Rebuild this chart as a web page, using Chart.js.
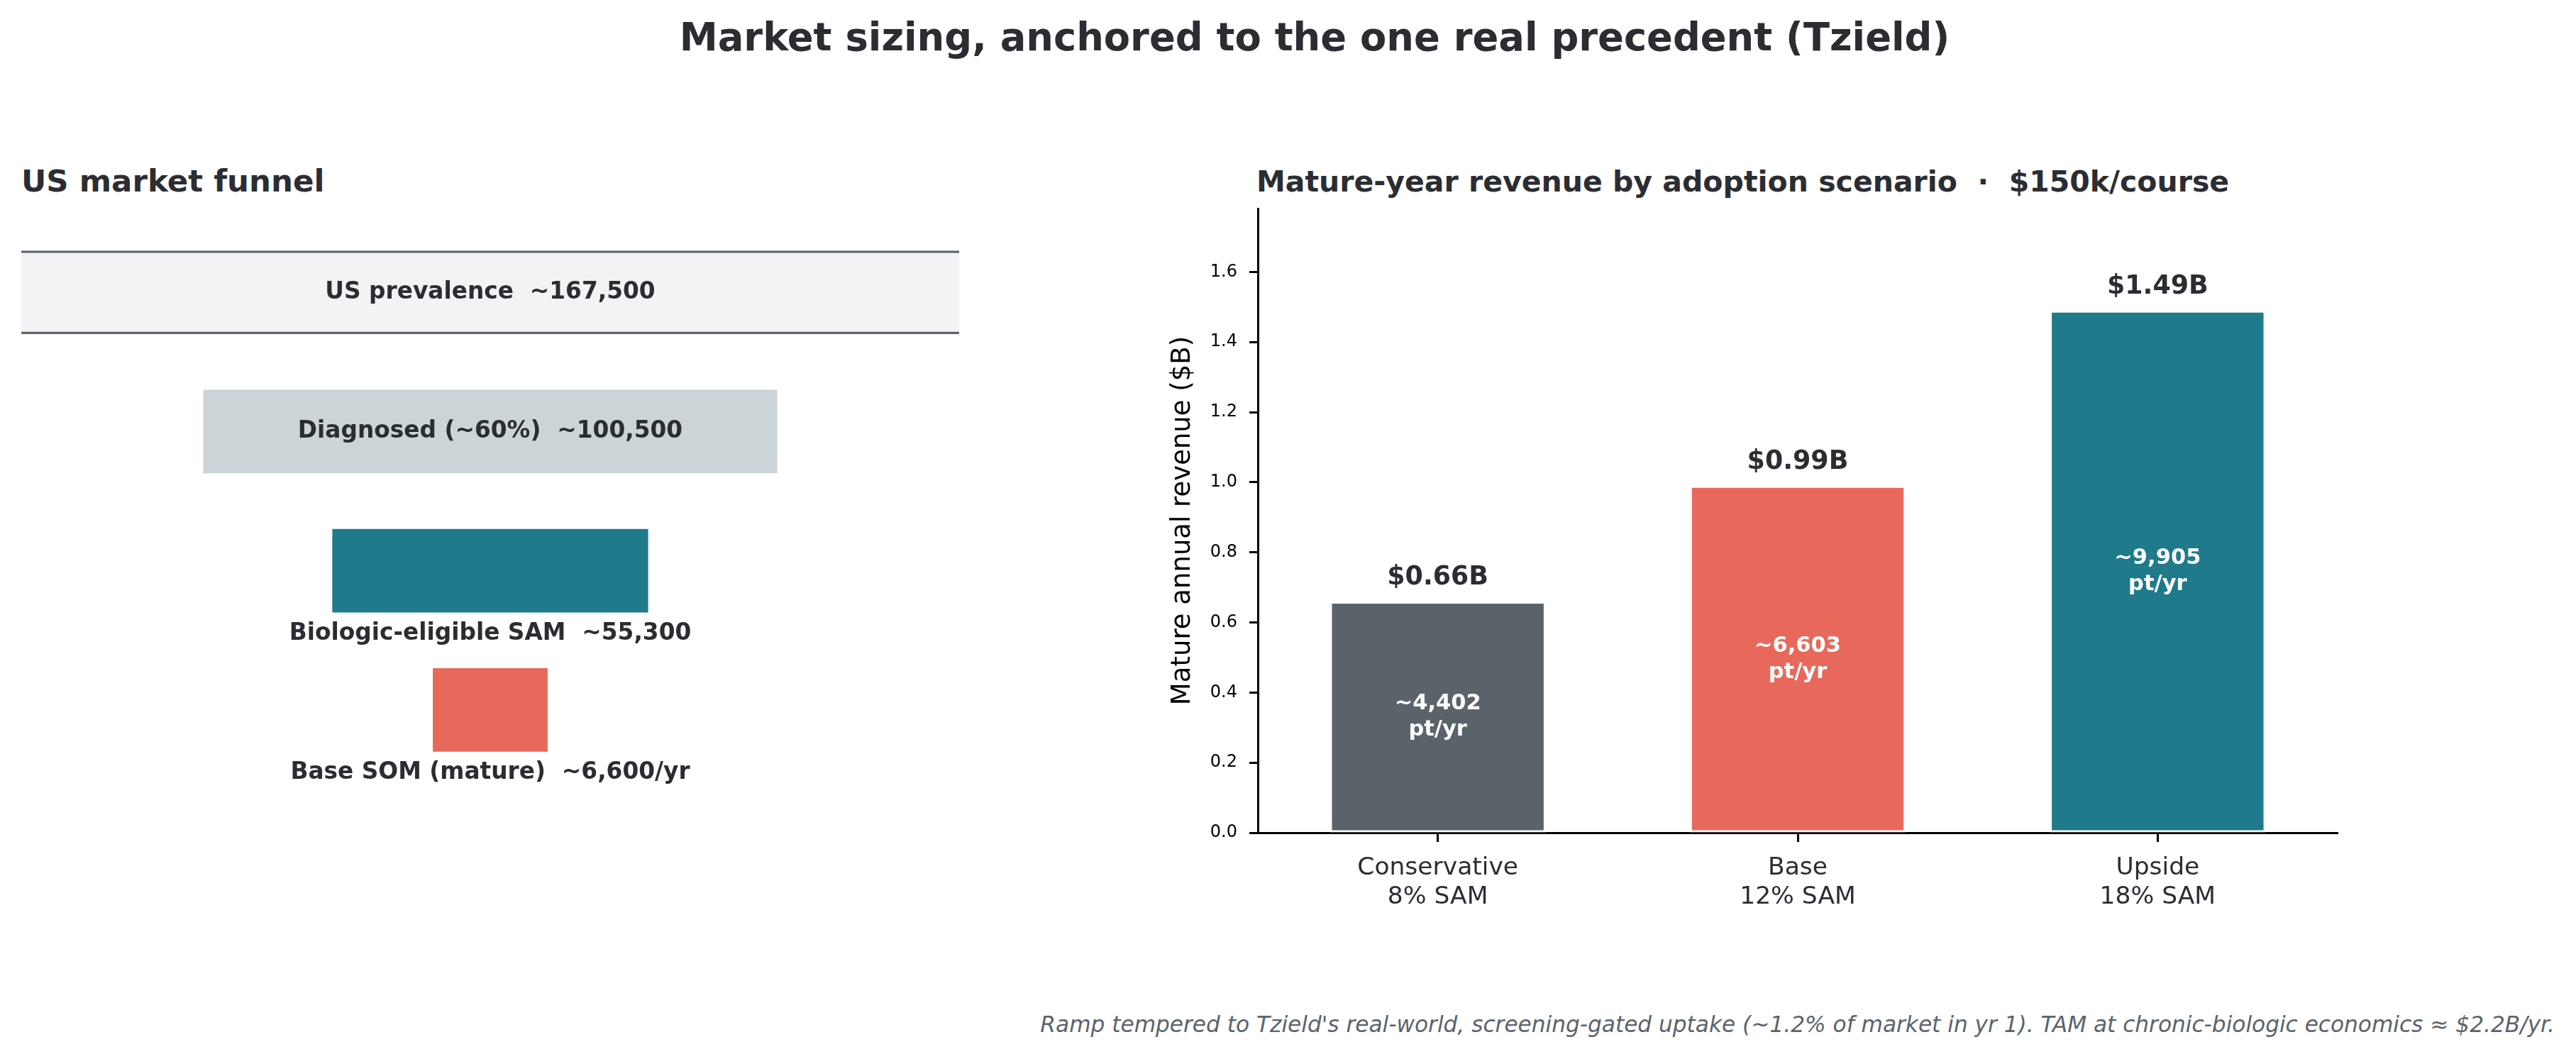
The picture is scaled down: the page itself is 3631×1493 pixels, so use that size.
<!DOCTYPE html>
<html lang="en">
<head>
  <meta charset="UTF-8" />
  <title>Market sizing, anchored to the one real precedent (Tzield)</title>
  <script src="https://cdn.jsdelivr.net/npm/chart.js@4.4.1/dist/chart.umd.min.js"></script>
  <style>
    * { box-sizing: border-box; }
    html, body { margin: 0; padding: 0; background: #fff; }
    body { width: 3631px; height: 1493px; position: relative; overflow: hidden; font-family: 'DejaVu Sans', sans-serif; color: #2b2d33; }
    .txt { position: absolute; white-space: nowrap; line-height: 1; }
    #suptitle { left: 1853px; top: 26px; transform: translateX(-50%); font-size: 54.3px; font-weight: bold; }
    .panel-title { font-weight: bold; }
    #funnelTitle { left: 30px; top: 234px; font-size: 43.5px; }
    #revTitle { left: 1771px; top: 236px; font-size: 41px; }
    #footnote { right: 30px; top: 1429px; font-size: 31.2px; font-style: italic; color: #5b636b; }
    canvas { position: absolute; }
    #funnel { left: 0; top: 300px; }
    #revenue { left: 1641px; top: 280px; }
  </style>
</head>
<body>
  <div id="suptitle" class="txt">Market sizing, anchored to the one real precedent (Tzield)</div>
  <div id="funnelTitle" class="txt panel-title">US market funnel</div>
  <div id="revTitle" class="txt panel-title">Mature-year revenue by adoption scenario &nbsp;·&nbsp; $150k/course</div>
  <canvas id="funnel" width="1380" height="820"></canvas>
  <canvas id="revenue" width="1759" height="1020"></canvas>
  <div id="footnote" class="txt">Ramp tempered to Tzield's real-world, screening-gated uptake (~1.2% of market in yr 1). TAM at chronic-biologic economics ≈ $2.2B/yr.</div>

  <script>
    // funnel (US patients)
    const funnelLabels = ['US prevalence', 'Diagnosed (~60%)', 'Biologic-eligible SAM', 'Base SOM (mature)'];
    const funnelValues = [167500, 100500, 55300, 6600];
    const funnelSuffix = ['', '', '', '/yr'];
    const funnelColors = ['#f2f3f5', '#cbd5d8', '#1f7a8b', '#e8695c'];
    const FUNNEL_MIN_SHARE = 0.12; // smallest box is drawn at 12% of the top one

    // revenue scenarios
    const scenarios = [['Conservative', '8% SAM'], ['Base', '12% SAM'], ['Upside', '18% SAM']];
    const revenueB = [0.66, 0.99, 1.49];
    const patientsPerYear = [4402, 6603, 9905];
    const scenarioColors = ['#5b636a', '#e8695c', '#1f7a8b'];
    const yTicks = [0, 0.2, 0.4, 0.6, 0.8, 1.0, 1.2, 1.4, 1.6];

    const DARK = '#2b2d33';
    const FONT = "'DejaVu Sans'";

    Chart.defaults.font.family = FONT;
    Chart.defaults.color = DARK;

    const noPad = (s) => { s.paddingTop = 0; s.paddingBottom = 0; s.paddingLeft = 0; s.paddingRight = 0; };

    const funnelText = {
      id: 'funnelText',
      afterDatasetsDraw(chart) {
        const { ctx } = chart;
        const meta = chart.getDatasetMeta(0);
        ctx.save();
        ctx.font = `bold 32.8px ${FONT}`;
        ctx.fillStyle = DARK;
        ctx.textAlign = 'center';
        ctx.textBaseline = 'middle';
        meta.data.forEach((bar, i) => {
          const text = funnelLabels[i] + '  ~' + funnelValues[i].toLocaleString('en-US') + funnelSuffix[i];
          const inside = funnelValues[i] / funnelValues[0] > 0.5;
          const cx = (chart.chartArea.left + chart.chartArea.right) / 2;
          const y = inside ? bar.y : bar.y + bar.height / 2 + 30;
          ctx.fillText(text, cx, y);
        });
        ctx.restore();
      }
    };

    new Chart(document.getElementById('funnel'), {
      type: 'bar',
      data: {
        labels: funnelLabels,
        datasets: [{
          data: funnelValues.map((v) => {
            const w = Math.max(v, FUNNEL_MIN_SHARE * funnelValues[0]);
            return [-w / 2, w / 2];
          }),
          backgroundColor: funnelColors,
          borderColor: '#5b636b',
          borderWidth: (c) => (c.dataIndex === 0 ? { top: 3.5, bottom: 3.5, left: 0, right: 0 } : 0),
          borderSkipped: false,
          barPercentage: 0.6,
          categoryPercentage: 1.0,
          clip: 0
        }]
      },
      options: {
        indexAxis: 'y',
        responsive: false,
        animation: false,
        devicePixelRatio: 1,
        layout: { padding: { left: 30, right: 28, top: 14, bottom: 21 } },
        plugins: { legend: { display: false }, tooltip: { enabled: false } },
        scales: {
          x: { display: false, min: -82100, max: 82100 },
          y: { display: false }
        }
      },
      plugins: [funnelText]
    });

    const barText = {
      id: 'barText',
      afterDatasetsDraw(chart) {
        const { ctx } = chart;
        const y = chart.scales.y;
        const meta = chart.getDatasetMeta(0);
        ctx.save();
        ctx.textAlign = 'center';
        ctx.textBaseline = 'alphabetic';
        meta.data.forEach((bar, i) => {
          const v = revenueB[i];
          ctx.fillStyle = DARK;
          ctx.font = `bold 36.4px ${FONT}`;
          ctx.fillText('$' + v.toFixed(2) + 'B', bar.x, y.getPixelForValue(v) - 23.5);
          const mid = y.getPixelForValue(v / 2);
          ctx.fillStyle = '#ffffff';
          ctx.font = `bold 30.5px ${FONT}`;
          ctx.fillText('~' + patientsPerYear[i].toLocaleString('en-US'), bar.x, mid - 10.5);
          ctx.fillText('pt/yr', bar.x, mid + 26.5);
        });
        ctx.restore();
      }
    };

    new Chart(document.getElementById('revenue'), {
      type: 'bar',
      data: {
        labels: scenarios,
        datasets: [{
          data: revenueB,
          backgroundColor: scenarioColors,
          borderColor: '#ffffff',
          borderWidth: 3,
          borderSkipped: false,
          barPercentage: 0.6,
          categoryPercentage: 1.0
        }]
      },
      options: {
        responsive: false,
        animation: false,
        devicePixelRatio: 1,
        layout: { padding: { left: 0, right: 105, top: 14, bottom: 0 } },
        plugins: { legend: { display: false }, tooltip: { enabled: false } },
        scales: {
          x: {
            afterFit: (s) => { s.height = 126; noPad(s); },
            grid: { display: true, offset: false, drawOnChartArea: false, drawTicks: true, tickLength: 13, tickWidth: 3, tickColor: '#000' },
            border: { display: true, color: '#000', width: 3 },
            ticks: { color: DARK, padding: 16, font: { size: 34.5, lineHeight: 1.2 }, maxRotation: 0 }
          },
          y: {
            min: 0,
            max: 1.781,
            afterFit: (s) => { s.width = 132; noPad(s); },
            afterBuildTicks: (s) => { s.ticks = yTicks.map((v) => ({ value: v })); },
            grid: { display: true, drawOnChartArea: false, drawTicks: true, tickLength: 12, tickWidth: 3, tickColor: '#000' },
            border: { display: true, color: '#000', width: 3 },
            ticks: { color: '#000', padding: 17, font: { size: 24 }, callback: (v) => Number(v).toFixed(1) },
            title: {
              display: true,
              text: 'Mature annual revenue ($B)',
              color: '#000',
              font: { size: 37, lineHeight: 1.2 },
              padding: { top: 4, bottom: 0 }
            }
          }
        }
      },
      plugins: [barText]
    });
  </script>
</body>
</html>
